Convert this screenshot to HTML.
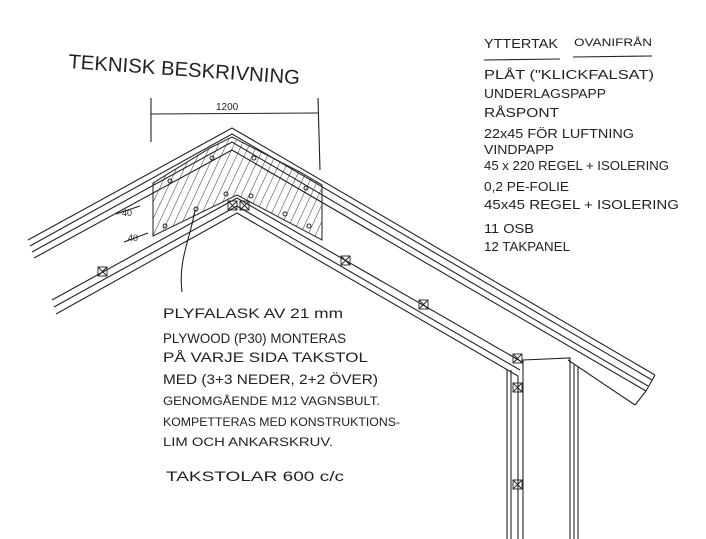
<!DOCTYPE html>
<html><head><meta charset="utf-8"><style>
html,body{margin:0;padding:0;background:#fff;}
svg{display:block}
text{font-family:"Liberation Sans",sans-serif;fill:#222;}
</style></head><body>
<svg width="706" height="539" viewBox="0 0 706 539" xmlns="http://www.w3.org/2000/svg">
<defs>
<pattern id="h" patternUnits="userSpaceOnUse" width="7" height="7" patternTransform="rotate(25)">
<line x1="0" y1="0" x2="0" y2="7" stroke="#333" stroke-width="1"/>
</pattern>
</defs>
<g stroke="#222" fill="none" stroke-width="1.1">
<polygon points="153,183 153,236 237,195 322,240 322,185 300,172 232,137 210,148" fill="url(#h)" stroke="#333"/>
<line x1="151" y1="98" x2="151" y2="142"/><line x1="318" y1="98" x2="320" y2="170"/>
<line x1="151" y1="114" x2="318" y2="113"/>
<polyline points="28,240 232,128 655,375"/>
<polyline points="30,246 232,134 652,380"/>
<polyline points="32,252 232,142 648,386"/>
<polyline points="34,258 232,150 646,391"/>
<line x1="646" y1="391" x2="635" y2="405"/><line x1="655" y1="375" x2="646" y2="391"/>
<polyline points="52,300 237,198 522,362"/>
<polyline points="54,307 237,206 520,370"/>
<polyline points="56,314 237,213 518,376"/>
<polyline points="568,360 635,405"/>
<polyline points="523,539 523,360 570,358 570,539"/>
<line x1="507" y1="370" x2="507" y2="539"/><line x1="511" y1="370" x2="511" y2="539"/><line x1="518" y1="376" x2="518" y2="539"/>
<line x1="574" y1="365" x2="574" y2="539"/><line x1="578" y1="367" x2="578" y2="539"/>
<g stroke-width="0.9">
<rect x="98" y="267" width="9" height="9"/><path d="M98,267l9,9M107,267l-9,9"/>
<rect x="228" y="201" width="9" height="9"/><path d="M228,201l9,9M237,201l-9,9"/>
<rect x="240" y="201" width="9" height="9"/><path d="M240,201l9,9M249,201l-9,9"/>
<rect x="341" y="256" width="9" height="9"/><path d="M341,256l9,9M350,256l-9,9"/>
<rect x="419" y="300" width="9" height="9"/><path d="M419,300l9,9M428,300l-9,9"/>
<rect x="513" y="354" width="9" height="9"/><path d="M513,354l9,9M522,354l-9,9"/>
<rect x="513" y="383" width="9" height="9"/><path d="M513,383l9,9M522,383l-9,9"/>
<rect x="513" y="480" width="9" height="9"/><path d="M513,480l9,9M522,480l-9,9"/>
</g>
<g stroke-width="1"><circle cx="212" cy="158" r="2"/><circle cx="254" cy="158" r="2"/><circle cx="170" cy="181" r="2"/><circle cx="196" cy="209" r="2"/><circle cx="165" cy="226" r="2"/><circle cx="226" cy="194" r="2"/><circle cx="251" cy="196" r="2"/><circle cx="306" cy="188" r="2"/><circle cx="285" cy="214" r="2"/><circle cx="309" cy="226" r="2"/></g>
<path d="M195,210 C190,240 178,260 182,292"/>
<line x1="484" y1="60" x2="560" y2="59"/><line x1="573" y1="57" x2="652" y2="56"/>
<line x1="116" y1="214" x2="140" y2="206"/><line x1="124" y1="242" x2="148" y2="233"/>
</g>
<text x="68" y="68" font-size="20" transform="rotate(4 68 68)" textLength="232" lengthAdjust="spacingAndGlyphs">TEKNISK BESKRIVNING</text>
<text x="122" y="216" font-size="9">40</text><text x="128" y="241" font-size="9">40</text>
<text x="216" y="110" font-size="10">1200</text>
<g font-size="13">
<text x="484" y="48" textLength="74" lengthAdjust="spacingAndGlyphs">YTTERTAK</text>
<text x="574" y="46" font-size="11" textLength="78" lengthAdjust="spacingAndGlyphs">OVANIFRÅN</text>
<text x="484" y="79" textLength="170" lengthAdjust="spacingAndGlyphs">PLÅT ("KLICKFALSAT)</text>
<text x="484" y="98" textLength="122" lengthAdjust="spacingAndGlyphs">UNDERLAGSPAPP</text>
<text x="484" y="117" textLength="75" lengthAdjust="spacingAndGlyphs">RÅSPONT</text>
<text x="484" y="138" textLength="150" lengthAdjust="spacingAndGlyphs">22x45 FÖR LUFTNING</text>
<text x="484" y="154" textLength="70" lengthAdjust="spacingAndGlyphs">VINDPAPP</text>
<text x="484" y="170" textLength="185" lengthAdjust="spacingAndGlyphs">45 x 220 REGEL + ISOLERING</text>
<text x="484" y="191" textLength="85" lengthAdjust="spacingAndGlyphs">0,2 PE-FOLIE</text>
<text x="484" y="209" textLength="195" lengthAdjust="spacingAndGlyphs">45x45 REGEL + ISOLERING</text>
<text x="484" y="233" textLength="50" lengthAdjust="spacingAndGlyphs">11 OSB</text>
<text x="484" y="251" textLength="86" lengthAdjust="spacingAndGlyphs">12 TAKPANEL</text>
</g>
<g font-size="14">
<text x="163" y="318" textLength="180" lengthAdjust="spacingAndGlyphs">PLYFALASK AV 21 mm</text>
<text x="163" y="343" textLength="183" lengthAdjust="spacingAndGlyphs">PLYWOOD (P30) MONTERAS</text>
<text x="163" y="362" textLength="205" lengthAdjust="spacingAndGlyphs">PÅ VARJE SIDA TAKSTOL</text>
<text x="163" y="384" textLength="215" lengthAdjust="spacingAndGlyphs">MED (3+3 NEDER, 2+2 ÖVER)</text>
<text x="163" y="405" font-size="12" textLength="217" lengthAdjust="spacingAndGlyphs">GENOMGÅENDE M12 VAGNSBULT.</text>
<text x="163" y="426" font-size="12" textLength="237" lengthAdjust="spacingAndGlyphs">KOMPETTERAS MED KONSTRUKTIONS-</text>
<text x="163" y="446" font-size="12" textLength="170" lengthAdjust="spacingAndGlyphs">LIM OCH ANKARSKRUV.</text>
<text x="166" y="481" textLength="178" lengthAdjust="spacingAndGlyphs">TAKSTOLAR    600 c/c</text>
</g>
</svg>
</body></html>
